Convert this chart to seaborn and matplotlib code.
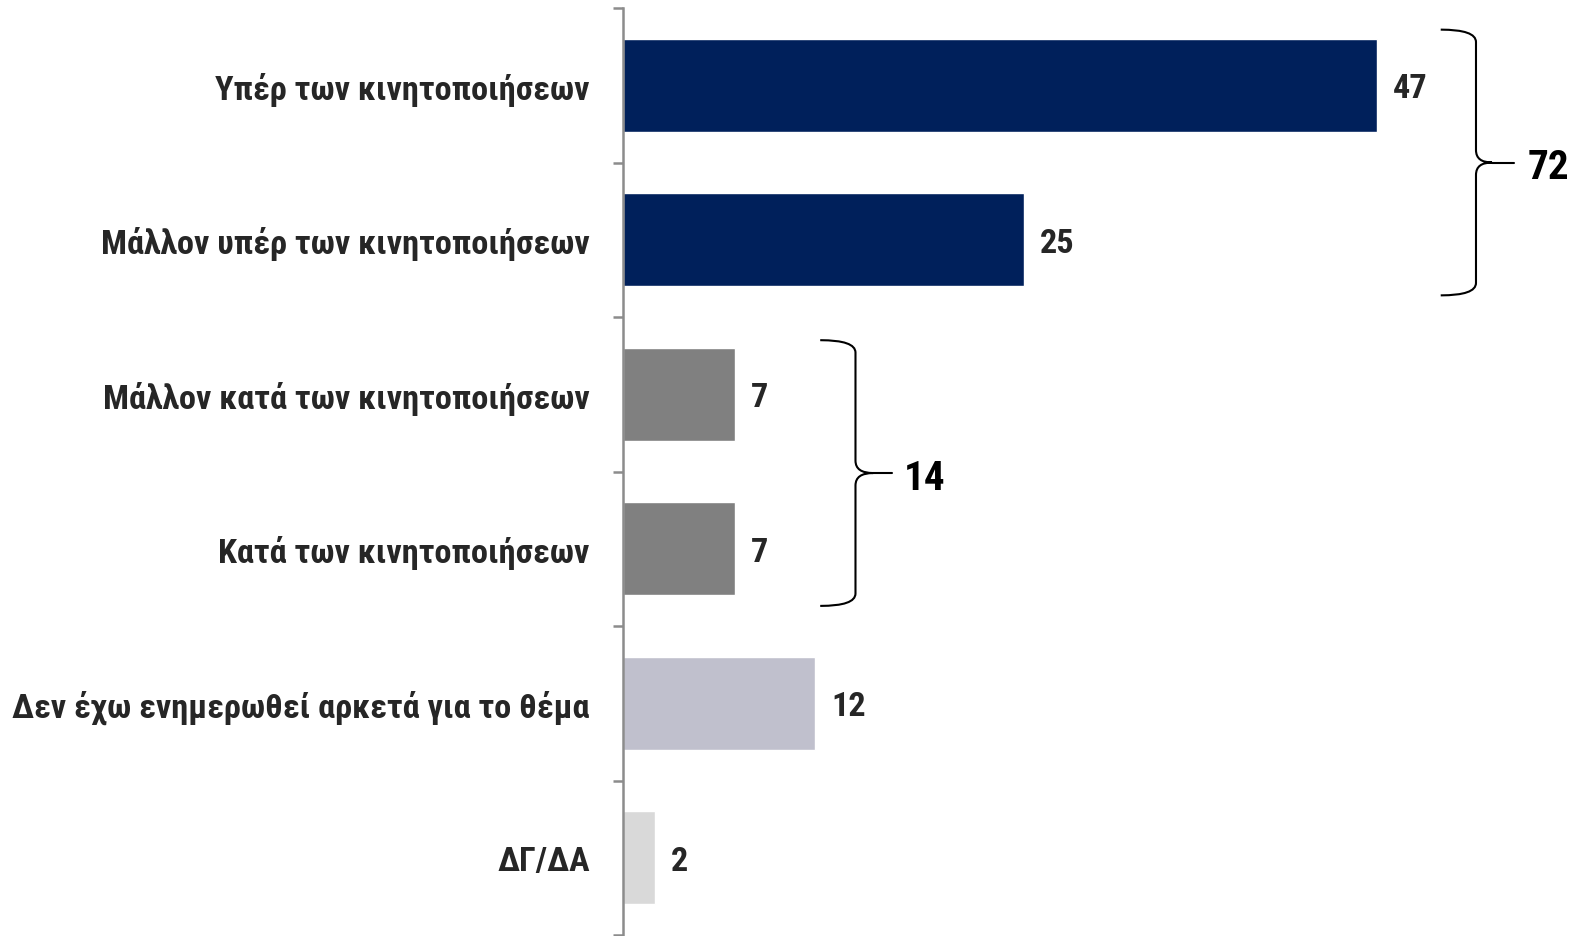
import matplotlib
matplotlib.use("Agg")
import matplotlib.pyplot as plt
import matplotlib.font_manager as fm
import seaborn as sns
import pandas as pd
from matplotlib.path import Path
from matplotlib.patches import PathPatch

categories = [
    "Υπέρ των κινητοποιήσεων",
    "Μάλλον υπέρ των κινητοποιήσεων",
    "Μάλλον κατά των κινητοποιήσεων",
    "Κατά των κινητοποιήσεων",
    "Δεν έχω ενημερωθεί αρκετά για το θέμα",
    "ΔΓ/ΔΑ",
]
values = [47, 25, 7, 7, 12, 2]
colors = ["#00205B", "#00205B", "#808080", "#808080", "#C0C0CD", "#D9D9D9"]
groups = [(0, 1), (2, 3)]  # bracketed category index ranges

sns.set_theme(style="white")

available = {f.name for f in fm.fontManager.ttflist}
candidates = ["Liberation Sans Narrow", "Arial Narrow", "Roboto Condensed",
              "Open Sans Condensed", "Noto Sans Display", "Liberation Sans"]
main = next((c for c in candidates if c in available), "DejaVu Sans")
FONT = [main, "DejaVu Sans"]
plt.rcParams["font.family"] = FONT

df = pd.DataFrame({"cat": categories, "val": values})

fig = plt.figure(figsize=(15.77, 9.37), dpi=100)
ax = fig.add_axes([623 / 1577, 1 - 936 / 937, 1 - 623 / 1577, (936 - 9) / 937])

sns.barplot(data=df, y="cat", x="val", hue="cat", palette=colors,
            order=categories, hue_order=categories, width=0.6,
            dodge=False, legend=False, ax=ax, saturation=1)

ax.set_xlim(0, 59.5)
ax.set_ylim(5.5, -0.5)
ax.set_xlabel("")
ax.set_ylabel("")
ax.set_xticks([])
for s in ["top", "right", "bottom"]:
    ax.spines[s].set_visible(False)
ax.spines["left"].set_color("#8C8C8C")
ax.spines["left"].set_linewidth(1.8)

# choose a label size so the longest label spans about as wide as in the reference
renderer = fig.canvas.get_renderer()
probe = fig.text(0, 0, max(categories, key=len), fontsize=25, fontweight="bold")
w = probe.get_window_extent(renderer).width
probe.remove()
lab_fs = min(25, 25 * 578 / w)
num_fs = lab_fs
tot_fs = lab_fs * 1.2

ax.set_yticks(range(len(categories)))
ax.set_yticklabels(categories, fontsize=lab_fs, fontweight="bold", color="#262626")
ax.tick_params(axis="y", which="major", length=0, pad=24)
ax.set_yticks([i - 0.5 for i in range(len(categories) + 1)], minor=True)
ax.tick_params(axis="y", which="minor", length=7, width=1.8, color="#8C8C8C",
               direction="out", left=True)

for i, v in enumerate(values):
    ax.text(v + 1.0, i + 0.02, str(v), va="center", ha="left", fontsize=num_fs,
            fontweight="bold", color="#262626")

def brace(ax, x0, xs, xtip, xend, ytop, ybot, rx, ry, label, lx):
    ymid = (ytop + ybot) / 2
    verts = [
        (x0, ytop), (xs, ytop), (xs, ytop + ry),
        (xs, ymid - ry), (xs, ymid), (xtip, ymid),
        (xs, ymid), (xs, ymid + ry),
        (xs, ybot - ry), (xs, ybot), (x0, ybot),
    ]
    codes = [Path.MOVETO, Path.CURVE3, Path.CURVE3,
             Path.LINETO, Path.CURVE3, Path.CURVE3,
             Path.CURVE3, Path.CURVE3,
             Path.LINETO, Path.CURVE3, Path.CURVE3]
    ax.add_patch(PathPatch(Path(verts, codes), fill=False, lw=1.5,
                           edgecolor="black", clip_on=False))
    ax.plot([xtip, xend], [ymid, ymid], color="black", lw=1.5, clip_on=False)
    ax.text(lx, ymid + 0.03, label, va="center", ha="left", fontsize=tot_fs,
            fontweight="bold", color="black", clip_on=False)

g0 = groups[0]
tot0 = sum(values[g0[0]:g0[1] + 1])
m0 = max(values[g0[0]:g0[1] + 1])
brace(ax, m0 + 4.0, m0 + 6.2, m0 + 7.2, m0 + 8.6,
      g0[0] - 0.36, g0[1] + 0.36, 0.4, 0.08, str(tot0), m0 + 9.4)

g1 = groups[1]
tot1 = sum(values[g1[0]:g1[1] + 1])
m1 = max(values[g1[0]:g1[1] + 1])
brace(ax, m1 + 5.3, m1 + 7.5, m1 + 8.6, m1 + 9.8,
      g1[0] - 0.35, g1[1] + 0.37, 0.4, 0.08, str(tot1), m1 + 10.5)

fig.savefig("out.png", dpi=100)
